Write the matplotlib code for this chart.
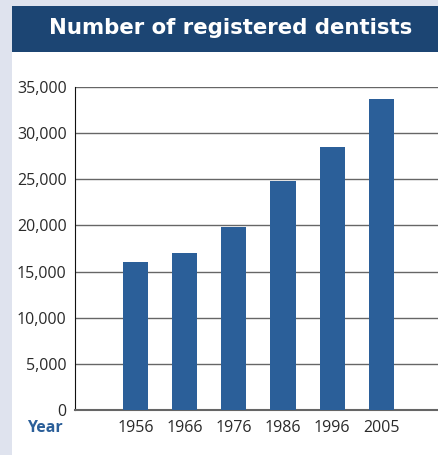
import matplotlib.pyplot as plt
from matplotlib.patches import Rectangle
from matplotlib.ticker import FuncFormatter

# data
years = ["1956", "1966", "1976", "1986", "1996", "2005"]
dentists = [16000, 17000, 19800, 24800, 28500, 33700]
yticks = [0, 5000, 10000, 15000, 20000, 25000, 30000, 35000]

bg = "#dfe3ee"
banner = "#1c4573"
bar_color = "#2b5f99"

plt.rcParams['font.family'] = ['Open Sans', 'DejaVu Sans']

fig = plt.figure(figsize=(4.39, 4.55), dpi=100)
fig.patch.set_facecolor(bg)

# white panel and title banner
fig.add_artist(Rectangle((12 / 439, 0), 1, 1 - 52 / 455, transform=fig.transFigure,
                         facecolor="white", edgecolor="none", zorder=-2))
fig.add_artist(Rectangle((12 / 439, 1 - 52 / 455), 1, 46 / 455, transform=fig.transFigure,
                         facecolor=banner, edgecolor="none", zorder=-2))
fig.text(231 / 439, 1 - 28 / 455, "Number of registered dentists", color="white",
         fontsize=15.3, fontweight="bold", family="DejaVu Sans", ha="center", va="center")

ax = fig.add_axes([75 / 439, 1 - 410 / 455, 1 - 75 / 439, 323 / 455])
ax.set_zorder(2)
ax.set_facecolor("white")
x = list(range(len(years)))
ax.bar(x, dentists, width=0.51, color=bar_color, zorder=3)

ax.set_xlim(-1.24, 6.18)
ax.set_ylim(0, 35000)
ax.set_yticks(yticks)
ax.yaxis.set_major_formatter(FuncFormatter(lambda v, p: f"{int(v):,}"))
ax.set_xticks(x)
ax.set_xticklabels(years)
ax.grid(axis="y", color="#666666", linewidth=1.0, zorder=1)
ax.set_axisbelow(True)
ax.tick_params(axis="both", length=0, labelsize=11.5, colors="#2a2a2a", pad=6)
ax.tick_params(axis="x", pad=7)

for s in ["top", "right"]:
    ax.spines[s].set_visible(False)
ax.spines["left"].set_color("#111111")
ax.spines["bottom"].set_color("#666666")
ax.spines["bottom"].set_linewidth(1.5)

fig.text(45 / 439, 1 - 428 / 455, "Year", color=bar_color, fontsize=11.5,
         fontweight="bold", ha="center", va="center")

fig.savefig("out.png", dpi=100, facecolor=fig.get_facecolor())
